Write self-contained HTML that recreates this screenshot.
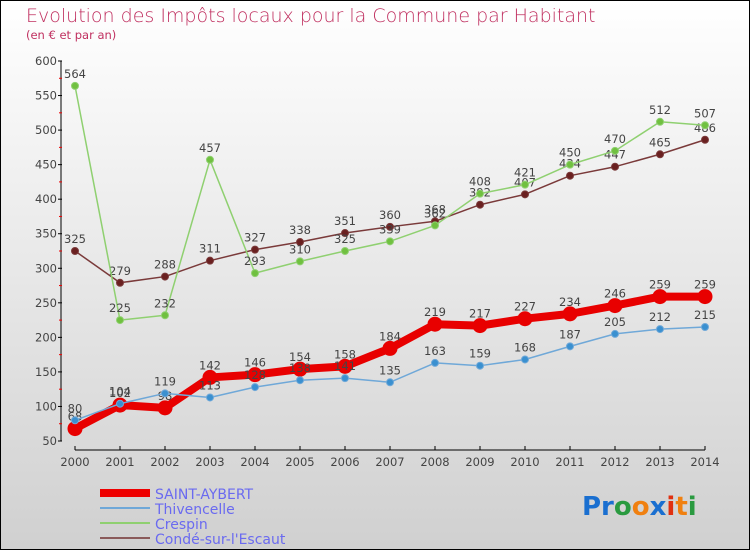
<!DOCTYPE html>
<html><head><meta charset="utf-8"><style>
body{margin:0;}
#c{width:750px;height:550px;position:relative;box-sizing:border-box;border:1px solid #000;background:linear-gradient(#fff,#d0d0d0);font-family:"DejaVu Sans","Liberation Sans",sans-serif;overflow:hidden}
</style></head><body>
<div id="c">
<svg width="748" height="548" viewBox="1 1 748 548" id="s">
<text x="26" y="22" font-size="19" fill="#c03060" font-weight="300">Evolution des Impôts locaux pour la Commune par Habitant</text>
<text x="26" y="39" font-size="11.5" fill="#c03060">(en € et par an)</text>
<g id="axes"></g><g id="series"></g>
<g>
<line x1="100" y1="493" x2="150" y2="493" stroke="#e00" stroke-width="8"/>
<text x="155" y="499" font-size="14" fill="#6a6af0">SAINT-AYBERT</text>
<line x1="100" y1="508" x2="150" y2="508" stroke="#6fa8d8" stroke-width="2"/>
<text x="155" y="514" font-size="14" fill="#6a6af0">Thivencelle</text>
<line x1="100" y1="523" x2="150" y2="523" stroke="#8fd070" stroke-width="2"/>
<text x="155" y="529" font-size="14" fill="#6a6af0">Crespin</text>
<line x1="100" y1="538" x2="150" y2="538" stroke="#8a5a5a" stroke-width="2"/>
<text x="155" y="544" font-size="14" fill="#6a6af0">Condé-sur-l'Escaut</text>
</g>
<text x="582" y="515" font-size="26" font-weight="bold"><tspan fill="#1a6fd0">Pr</tspan><tspan fill="#2a9a40">o</tspan><tspan fill="#f08010">o</tspan><tspan fill="#1a6fd0">x</tspan><tspan fill="#e03010">i</tspan><tspan fill="#f08010">t</tspan><tspan fill="#2a9a40">i</tspan></text>
</svg>
</div>
<script>
const years=[2000,2001,2002,2003,2004,2005,2006,2007,2008,2009,2010,2011,2012,2013,2014];
const yTicks=[50,100,150,200,250,300,350,400,450,500,550,600];
const saintAybert=[68,102,98,142,146,154,158,184,219,217,227,234,246,259,259];
const thivencelle=[80,104,119,113,128,138,141,135,163,159,168,187,205,212,215];
const crespin=[564,225,232,457,293,310,325,339,362,408,421,450,470,512,507];
const conde=[325,279,288,311,327,338,351,360,368,392,407,434,447,465,486];
const NS="http://www.w3.org/2000/svg";
const X=i=>75+i*45, Y=v=>441-(v-50)*380/550;
function mk(t,a,p){const e=document.createElementNS(NS,t);for(const k in a)e.setAttribute(k,a[k]);p.appendChild(e);return e;}
const ax=document.getElementById('axes');
let l=mk('line',{x1:61,y1:Y(600),x2:61,y2:Y(50),stroke:'#000'},ax);


l=mk('line',{x1:75,y1:450,x2:705,y2:450,stroke:'#000'},ax);


yTicks.forEach(v=>{
 mk('line',{x1:58,y1:Y(v),x2:62,y2:Y(v),stroke:'#000'},ax);
 if(v<600)mk('line',{x1:59,y1:Y(v+25),x2:62,y2:Y(v+25),stroke:'#e00'},ax);
 const t=mk('text',{x:57,y:Y(v)+4,'font-size':11.5,'text-anchor':'end',fill:'#444'},ax);t.textContent=v;
 
 
});
years.forEach((yr,i)=>{
 mk('line',{x1:X(i),y1:446,x2:X(i),y2:450,stroke:'#000'},ax);
 const t=mk('text',{x:X(i),y:466,'font-size':11.5,'text-anchor':'middle',fill:'#444'},ax);t.textContent=yr;
 
 
});
const sg=document.getElementById('series');
function series(d,name,col,w,r,dot){
 const g=mk('g',{},sg);
 
 
 mk('polyline',{points:d.map((v,i)=>X(i)+','+Y(v)).join(' '),fill:'none',stroke:col,'stroke-width':w,'stroke-linejoin':'round'},g);
 d.forEach((v,i)=>{
  const c=mk('circle',{cx:X(i),cy:Y(v),r:r,fill:dot,stroke:col,'stroke-width':1},g);
  
  
  const t=mk('text',{x:X(i),y:Y(v)-8,'font-size':11.5,'text-anchor':'middle',fill:'#444'},g);t.textContent=v;
  
  
 });
}
series(conde,'conde','#7a3a3a',1.5,3.5,'#6a2020');
series(crespin,'crespin','#8fd070',1.5,3.5,'#70c040');
series(saintAybert,'saint-aybert','#e80000',8,7,'#e80000');
series(thivencelle,'thivencelle','#6fa8d8',1.5,3.5,'#3a90d0');
</script>
</body></html>
